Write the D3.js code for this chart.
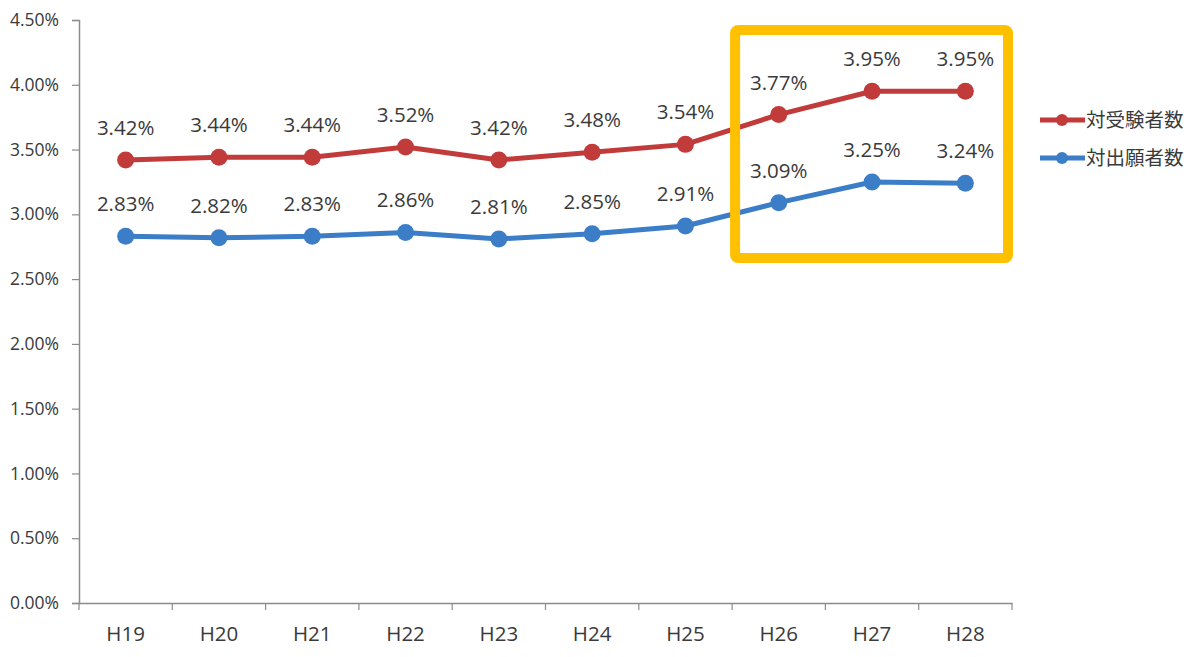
<!DOCTYPE html>
<html><head><meta charset="utf-8">
<script src="https://cdn.jsdelivr.net/npm/d3@7"></script>
<style>body{margin:0;background:#fff;} svg{display:block;}</style>
</head><body>
<svg id="chart" width="1200" height="657"></svg>
<script>
const categories = ["H19","H20","H21","H22","H23","H24","H25","H26","H27","H28"];
const examineeRatio = [3.42,3.44,3.44,3.52,3.42,3.48,3.54,3.77,3.95,3.95];
const applicantRatio = [2.83,2.82,2.83,2.86,2.81,2.85,2.91,3.09,3.25,3.24];
const yTicks = [0,0.5,1,1.5,2,2.5,3,3.5,4,4.5];
const seriesNames = ["対受験者数","対出願者数"];
const highlightFrom = "H26", highlightTo = "H28";

(function(){
const svg = d3.select("#chart");
const font = "'Open Sans','DejaVu Sans',sans-serif";
const mLeft = 79, mRight = 1012, mTop = 20, mBottom = 603;
const x = d3.scaleBand().domain(categories).range([mLeft, mRight]);
const y = d3.scaleLinear().domain([0,4.5]).range([mBottom, mTop]);
const axisColor = "#8c8c8c", textColor = "#3a3a3a";

// Y axis
const yAxis = svg.append("g").attr("transform",`translate(${mLeft},0)`)
  .call(d3.axisLeft(y).tickValues(yTicks).tickSize(7).tickPadding(13).tickFormat(d=>d.toFixed(2)+"%"));
yAxis.select(".domain").attr("stroke",axisColor).attr("stroke-width",1.5);
yAxis.selectAll(".tick line").attr("stroke",axisColor).attr("stroke-width",1.2);
yAxis.selectAll("text").attr("fill",textColor).style("font-family",font).style("font-size","17.5px");

// X axis
const xAxis = svg.append("g").attr("transform",`translate(0,${mBottom})`)
  .call(d3.axisBottom(x).tickSize(0).tickPadding(23));
xAxis.select(".domain").attr("stroke",axisColor).attr("stroke-width",1.5);
xAxis.selectAll("text").attr("fill",textColor).style("font-family",font).style("font-size","20.5px");
const bounds = categories.map(c=>x(c)).concat([mRight]);
svg.append("g").selectAll("line").data(bounds).join("line")
  .attr("x1",d=>d).attr("x2",d=>d).attr("y1",mBottom).attr("y2",mBottom+7)
  .attr("stroke",axisColor).attr("stroke-width",1.2);

const series = [
  {name:seriesNames[0], values:examineeRatio, color:"#C23B3B"},
  {name:seriesNames[1], values:applicantRatio, color:"#3B7DC6"}
];
const cx = c => x(c) + x.bandwidth()/2;
const line = d3.line().x((d,i)=>cx(categories[i])).y(d=>y(d));

series.forEach(s=>{
  svg.append("path").datum(s.values).attr("d",line)
    .attr("fill","none").attr("stroke",s.color).attr("stroke-width",5).attr("stroke-linejoin","round");
  svg.append("g").selectAll("circle").data(s.values).join("circle")
    .attr("cx",(d,i)=>cx(categories[i])).attr("cy",d=>y(d)).attr("r",8.5).attr("fill",s.color);
  svg.append("g").selectAll("text").data(s.values).join("text")
    .attr("x",(d,i)=>cx(categories[i])).attr("y",d=>y(d)-25)
    .attr("text-anchor","middle").attr("fill",textColor)
    .style("font-family",font).style("font-size","20.5px")
    .text(d=>d.toFixed(2)+"%");
});

// Highlight box
const hx0 = x(highlightFrom) + 3, hx1 = x(highlightTo) + x.bandwidth() - 4;
svg.append("rect").attr("x",hx0).attr("y",30).attr("width",hx1-hx0).attr("height",228)
  .attr("rx",3).attr("fill","none").attr("stroke","#FFC000").attr("stroke-width",10);

// Legend
const lg = svg.append("g");
series.forEach((s,i)=>{
  const ly = 120 + i*38;
  lg.append("line").attr("x1",1040).attr("x2",1085).attr("y1",ly).attr("y2",ly)
    .attr("stroke",s.color).attr("stroke-width",5);
  lg.append("circle").attr("cx",1062).attr("cy",ly).attr("r",6).attr("fill",s.color);
  lg.append("text").attr("x",1086).attr("y",ly+7).attr("fill",textColor)
    .style("font-family","'Noto Sans CJK JP',sans-serif").style("font-size","19.5px").text(s.name);
});
})();
</script>
</body></html>
